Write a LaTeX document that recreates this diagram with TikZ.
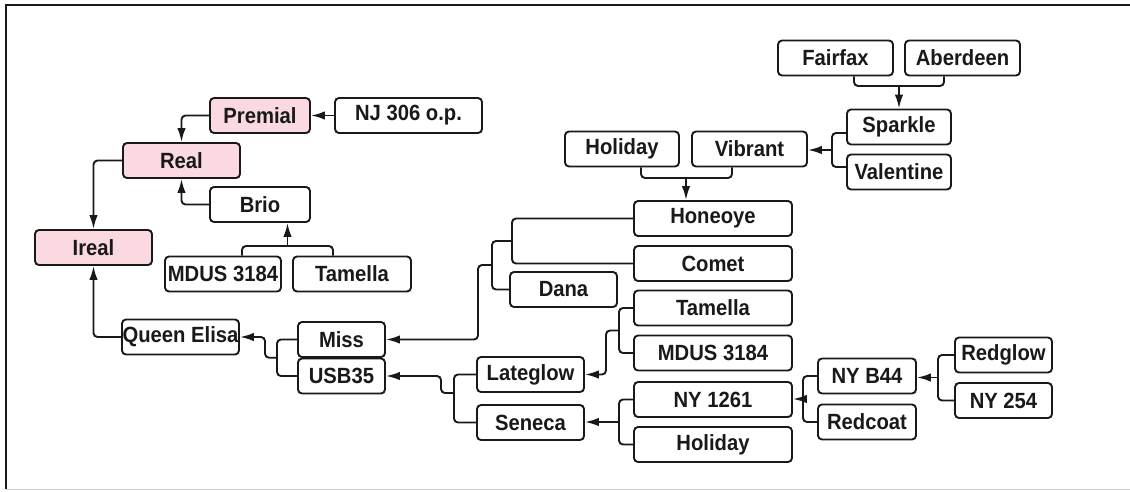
\documentclass[tikz,border=0pt]{standalone}
\usepackage{fontspec}
\setmainfont{Liberation Sans}[FakeStretch=0.92]
\usetikzlibrary{arrows.meta,calc}
\definecolor{pinkfill}{RGB}{250,217,225}
\definecolor{linec}{RGB}{25,25,25}
\tikzset{
  box/.style={draw=linec, rounded corners=4pt, line width=1.9pt, minimum height=35pt, inner sep=0pt, fill=white,
     font=\fontsize{22}{24}\selectfont\bfseries, text=linec},
  pinkbox/.style={box, fill=pinkfill},
  conn/.style={draw=linec, line width=1.9pt, rounded corners=4pt},
  arr/.style={conn, -{Latex[length=14pt,width=8.5pt]}},
}
\begin{document}
\begin{tikzpicture}[x=1pt,y=-1pt]
\useasboundingbox (0,0) rectangle (1130,491);
\draw[line width=2pt, color=linec] (6,489) -- (6,5) -- (1130,5);
\draw[line width=1pt, color=black!20] (6,489) -- (1130,489);

% nodes
\node[pinkbox, minimum width=100pt] (premial) at (260,115.5) {Premial};
\node[box, minimum width=147pt] (njop) at (408.5,115.5) {NJ 306 o.p.};
\node[pinkbox, minimum width=117pt] (real) at (181.5,160.5) {Real};
\node[box, minimum width=100pt] (brio) at (260,204.5) {Brio};
\node[pinkbox, minimum width=117pt] (ireal) at (93.5,247.5) {Ireal};
\node[box, minimum width=116pt] (mdusL) at (223,274) {MDUS 3184};
\node[box, minimum width=118pt] (tamL) at (352,274) {Tamella};
\node[box, minimum width=117pt] (qe) at (180.5,337) {Queen Elisa};
\node[box, minimum width=87pt] (miss) at (341.5,339.5) {Miss};
\node[box, minimum width=87pt] (usb) at (341.5,376) {USB35};
\node[box, minimum width=107pt] (lateglow) at (530.5,374.5) {Lateglow};
\node[box, minimum width=107pt] (seneca) at (530.5,422.5) {Seneca};
\node[box, minimum width=107pt] (dana) at (563.5,289.5) {Dana};
\node[box, minimum width=158pt] (honeoye) at (713,218.5) {Honeoye};
\node[box, minimum width=158pt] (comet) at (713,263.5) {Comet};
\node[box, minimum width=158pt] (tamR) at (713,308) {Tamella};
\node[box, minimum width=158pt] (mdusR) at (713,353) {MDUS 3184};
\node[box, minimum width=158pt] (ny1261) at (713,399.5) {NY 1261};
\node[box, minimum width=158pt] (holB) at (713,444.5) {Holiday};
\node[box, minimum width=98pt] (nyb44) at (867,376) {NY B44};
\node[box, minimum width=98pt] (redcoat) at (867,422) {Redcoat};
\node[box, minimum width=97pt] (redglow) at (1003.5,355) {Redglow};
\node[box, minimum width=97pt] (ny254) at (1003.5,400.5) {NY 254};
\node[box, minimum width=114pt] (holT) at (622,149) {Holiday};
\node[box, minimum width=115pt] (vibrant) at (749.5,149) {Vibrant};
\node[box, minimum width=104pt] (sparkle) at (899,127) {Sparkle};
\node[box, minimum width=104pt] (valentine) at (899,172) {Valentine};
\node[box, minimum width=115pt] (fairfax) at (835.5,58) {Fairfax};
\node[box, minimum width=115pt] (aberdeen) at (962.5,58) {Aberdeen};

% junction coordinates
\coordinate (jBrio) at (287.5,246);
\coordinate (jQE) at (277,357.7);
\coordinate (jHC) at (512,241);
\coordinate (jMiss) at (492,265);
\coordinate (jLate) at (619,330.5);
\coordinate (jUSB) at (454,393);
\coordinate (jSen) at (619,422);
\coordinate (j1261) at (803,399);
\coordinate (jB44) at (938,377.5);
\coordinate (jVib) at (832,150);
\coordinate (jSpark) at (899,86);
\coordinate (jHon) at (686,178);

% connectors
\draw[arr] (njop.west) -- (premial.east);
\draw[arr] (premial.west) -| (real.north);
\draw[arr] (real.west) -| (ireal.north);
\draw[arr] (brio.west) -| (real.south);
\draw[arr] (qe.west) -| (ireal.south);

\draw[conn] ($(mdusL.north)+(19,0)$) |- (jBrio) -| ($(tamL.north)+(-19,0)$);
\draw[arr] (jBrio) -- (jBrio |- brio.south);

\draw[conn] (miss.west) -| (jQE) |- (usb.west);
\draw[arr] (jQE) -- ++(-12,0) |- (qe.east);

\draw[conn] (honeoye.west) -| (jHC) |- (comet.west);
\draw[conn] (jHC) -| (jMiss) |- (dana.west);
\draw[arr] (jMiss) -- ++(-14,0) |- (miss.east);

\draw[conn] (tamR.west) -| (jLate) |- (mdusR.west);
\draw[arr] (jLate) -- ++(-13,0) |- (lateglow.east);

\draw[conn] (lateglow.west) -| (jUSB) |- (seneca.west);
\draw[arr] (jUSB) -- ++(-13,0) |- (usb.east);

\draw[conn] (ny1261.west) -| (jSen) |- (holB.west);
\draw[arr] (jSen) -- (jSen -| seneca.east);

\draw[conn] (nyb44.west) -| (j1261) |- (redcoat.west);
\draw[arr] (j1261) -- (j1261 -| ny1261.east);

\draw[conn] (redglow.west) -| (jB44) |- (ny254.west);
\draw[arr] (jB44) -- (jB44 -| nyb44.east);

\draw[conn] ($(sparkle.west)+(0,6)$) -| (jVib) |- ($(valentine.west)+(0,-5)$);
\draw[arr] (jVib) -- (jVib -| vibrant.east);

\draw[conn] ($(fairfax.south)+(18.5,0)$) |- (jSpark) -| ($(aberdeen.south)+(-18.5,0)$);
\draw[arr] (jSpark) -- (sparkle.north);

\draw[conn] ($(holT.south)+(19,0)$) |- (jHon) -| ($(vibrant.south)+(-17.5,0)$);
\draw[arr] (jHon) -- (jHon |- honeoye.north);
\end{tikzpicture}
\end{document}
